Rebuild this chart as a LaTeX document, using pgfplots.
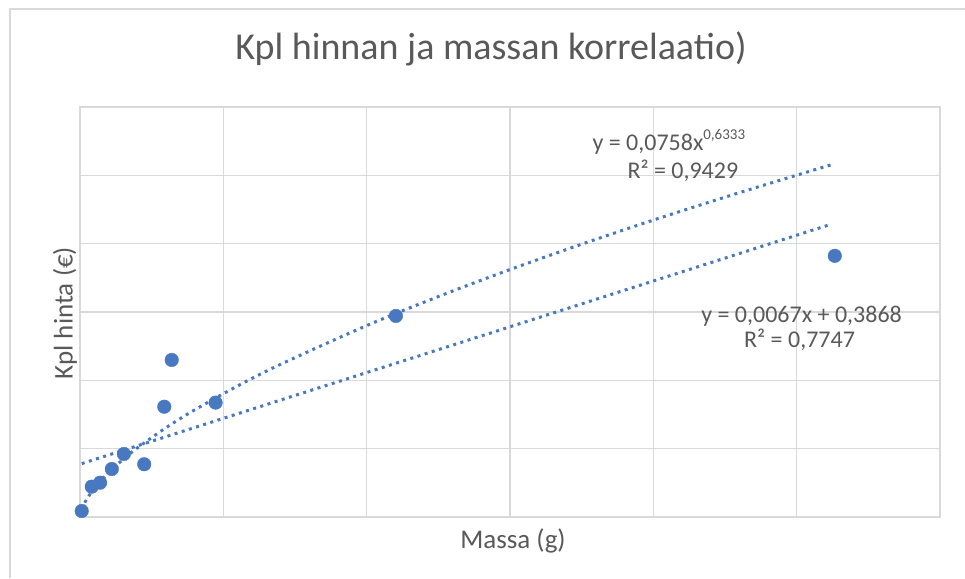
\documentclass[border=0pt]{standalone}
\usepackage{pgfplots}
\pgfplotsset{compat=1.18}
\usepackage{fontspec}
\setmainfont{Carlito}
\definecolor{xlblue}{RGB}{72,120,192}
\definecolor{xlgrid}{RGB}{217,217,217}
\definecolor{xltext}{RGB}{89,89,89}
\begin{document}
\begin{tikzpicture}[x=1pt,y=1pt]
\useasboundingbox (0,0) rectangle (965,578);
\draw[xlgrid,line width=1.2pt] (10,0) -- (10,569) -- (965,569);
\begin{axis}[
  at={(80pt,61pt)}, anchor=south west,
  scale only axis, width=860pt, height=410pt,
  xmin=0, xmax=300, ymin=0, ymax=3,
  xtick={0,50,...,300}, ytick={0,0.5,...,3},
  xticklabels={}, yticklabels={},
  major tick length=0pt,
  grid=major,
  major grid style={xlgrid,line width=1.3pt},
  axis line style={xlgrid,line width=1.3pt},
  title={Kpl hinnan ja massan korrelaatio)},
  title style={at={(axis description cs:0.478,1.1268)},anchor=center,font=\fontsize{38}{45}\selectfont,text=xltext},
  xlabel={Massa (g)},
  xlabel style={at={(axis description cs:0.5035,-0.0585)},anchor=center,font=\fontsize{27}{32}\selectfont,text=xltext},
  ylabel={Kpl hinta (€)},
  ylabel style={at={(axis description cs:-0.0174,0.4976)},anchor=center,rotate=0,font=\fontsize{27}{32}\selectfont,text=xltext},
  clip=false,
]
% linear trendline
\addplot[xlblue,line width=3pt,dash pattern=on 3pt off 4.5pt] coordinates {(0.6,0.3908) (262,2.1422)};
% power trendline
\addplot[xlblue,line width=3pt,dash pattern=on 3pt off 4.5pt,smooth] coordinates {
(0.6,0.0549) (1,0.0758) (2,0.1176) (4,0.1824) (7,0.2599) (10,0.3258) (15,0.4211) (20,0.5054) (30,0.6533) (40,0.7839) (55,0.9591) (70,1.1174) (100,1.4006) (125,1.613) (150,1.8106) (175,1.996) (200,2.1725) (230,2.373) (262,2.5771)};
% data
\addplot[only marks,mark=*,mark size=6.8pt,mark options={fill=xlblue,draw=xlblue}] coordinates {
(0.6,0.044) (4.1,0.222) (7.0,0.251) (11.1,0.351) (15.3,0.461) (22.4,0.386) (29.4,0.807) (32.0,1.149) (47.3,0.837) (110.2,1.471) (263.3,1.911)};
\node[text=xltext,font=\fontsize{24}{28}\selectfont] at (axis cs:205.4,2.745) {y = 0,0758x\raisebox{0.45em}{\fontsize{15}{17}\selectfont 0,6333}};
\node[text=xltext,font=\fontsize{24}{28}\selectfont] at (axis cs:210.3,2.533) {R² = 0,9429};
\node[text=xltext,font=\fontsize{24}{28}\selectfont] at (axis cs:251.7,1.472) {y = 0,0067x + 0,3868};
\node[text=xltext,font=\fontsize{24}{28}\selectfont] at (axis cs:251.0,1.296) {R² = 0,7747};
\end{axis}
\end{tikzpicture}
\end{document}
